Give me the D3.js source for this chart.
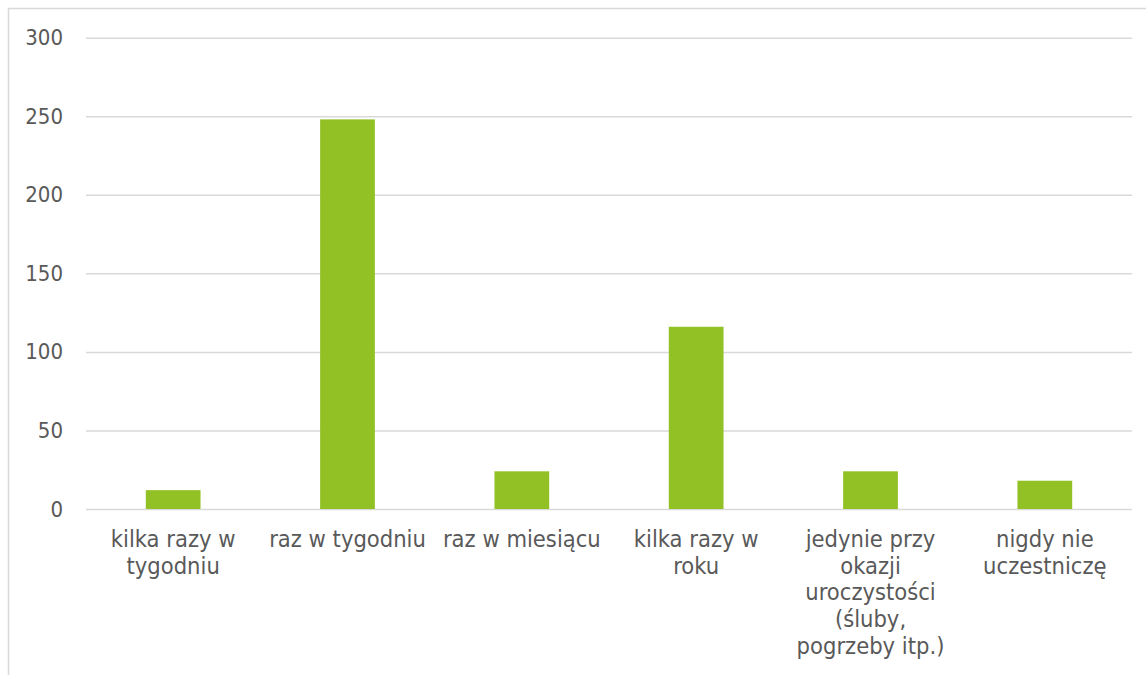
<!DOCTYPE html>
<html>
<head>
<meta charset="utf-8">
<script src="https://cdn.jsdelivr.net/npm/d3@7"></script>
<style>
  html, body { margin: 0; padding: 0; background: #fff; }
  svg { display: block; }
  text { font-family: "DejaVu Sans Condensed", "DejaVu Sans", sans-serif; fill: #595959; }
</style>
</head>
<body>
<svg id="chart" width="1146" height="675"></svg>
<script>
// Categories (how often the respondent attends) and their counts
const categories = [
  ["kilka razy w", "tygodniu"],
  ["raz w tygodniu"],
  ["raz w miesiącu"],
  ["kilka razy w", "roku"],
  ["jedynie przy", "okazji", "uroczystości", "(śluby,", "pogrzeby itp.)"],
  ["nigdy nie", "uczestniczę"]
];
const values = [12, 248, 24, 116, 24, 18];
const yTicks = [0, 50, 100, 150, 200, 250, 300];

const svg = d3.select("#chart");
const W = 1146, H = 675;
const plot = { left: 86, right: 1132, top: 37.7, bottom: 509 };

// outer frame
svg.append("rect")
  .attr("x", 8.5).attr("y", 8.5)
  .attr("width", W + 20).attr("height", H + 20)
  .attr("fill", "none").attr("stroke", "#d9d9d9").attr("stroke-width", 1.5);

const x = d3.scaleBand()
  .domain(d3.range(categories.length))
  .range([plot.left, plot.right])
  .padding(0);

const y = d3.scaleLinear()
  .domain([0, 300])
  .range([plot.bottom, plot.top]);

// horizontal gridlines with value labels
const yAxis = d3.axisLeft(y)
  .tickValues(yTicks)
  .tickSize(-(plot.right - plot.left))
  .tickPadding(23);

const gy = svg.append("g")
  .attr("transform", `translate(${plot.left},0)`)
  .call(yAxis);
gy.select(".domain").remove();
gy.selectAll(".tick line").attr("stroke", "#d9d9d9").attr("stroke-width", 1.5);
gy.selectAll(".tick text")
  .attr("font-size", 22)
  .style("font-family", "'DejaVu Sans Condensed', 'DejaVu Sans', sans-serif")
  .attr("fill", "#595959");

// bars
const barFrac = 0.314;
const bw = x.bandwidth() * barFrac;
svg.append("g")
  .selectAll("rect")
  .data(values)
  .join("rect")
  .attr("x", (d, i) => x(i) + (x.bandwidth() - bw) / 2)
  .attr("width", bw)
  .attr("y", d => y(d))
  .attr("height", d => y(0) - y(d))
  .attr("fill", "#92c126");

// category labels (multi-line)
const lab = svg.append("g")
  .selectAll("text")
  .data(categories)
  .join("text")
  .attr("text-anchor", "middle")
  .attr("font-size", 23.5)
  .attr("transform", (d, i) => `translate(${x(i) + x.bandwidth() / 2},${plot.bottom + 38})`);
lab.selectAll("tspan")
  .data(d => d)
  .join("tspan")
  .attr("x", 0)
  .attr("dy", (d, j) => j === 0 ? 0 : 26.7)
  .text(d => d);
</script>
</body>
</html>
